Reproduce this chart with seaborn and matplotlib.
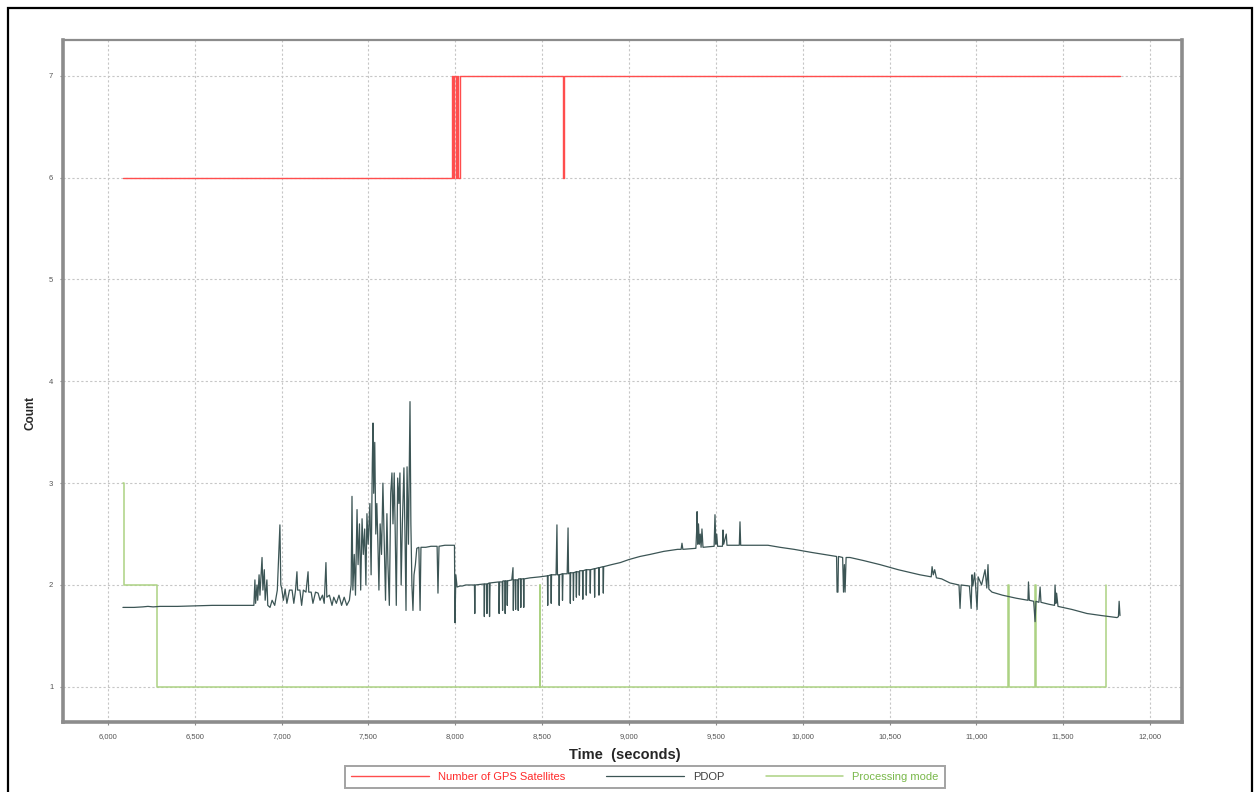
import matplotlib
matplotlib.use("Agg")
import matplotlib.pyplot as plt
from matplotlib.ticker import FuncFormatter
from matplotlib.patches import Rectangle
import pandas as pd
import seaborn as sns

# Number of GPS satellites tracked (step series)
sat_time = [6086, 7981, 7989, 7995, 8003, 8010, 8018, 8027,
            8618, 8628, 11827]
sat_count = [6, 7, 6, 7, 6, 7, 6, 7,
             6, 7, 7]

# PDOP over time
pdop_time = [
    6086, 6150, 6200, 6230, 6260, 6300, 6400, 6500, 6600, 6700, 6800, 6840,
    6846, 6850, 6858, 6862, 6870, 6875, 6887, 6892, 6900, 6905, 6915, 6920,
    6933, 6945, 6960, 6975, 6990, 6995, 7000, 7010, 7020, 7030, 7045, 7060,
    7070, 7080, 7088, 7092, 7105, 7115, 7125, 7140, 7152, 7156, 7170, 7180,
    7195, 7210, 7221, 7235, 7245, 7255, 7260, 7275, 7290, 7300, 7315, 7330,
    7345, 7360, 7375, 7390,
    7400, 7405, 7410, 7418, 7425, 7434, 7440, 7448, 7455, 7463, 7470, 7478,
    7485, 7491, 7498, 7508, 7515, 7522, 7526, 7530, 7536, 7542, 7548, 7555,
    7560, 7567, 7575, 7583, 7590, 7598, 7606, 7612, 7620, 7628, 7635, 7641,
    7648, 7654, 7660, 7668, 7675, 7681, 7688, 7695, 7704, 7710, 7716, 7722,
    7730, 7739, 7744, 7750, 7756,
    7762, 7770, 7778, 7790, 7797, 7802, 7830, 7860, 7895, 7900, 7906, 7940,
    7980, 7995, 7998, 8003, 8010, 8027,
    8040, 8060, 8080, 8110, 8112, 8114, 8165, 8167, 8169, 8180, 8182, 8184,
    8195, 8197, 8200, 8250, 8252, 8255, 8270, 8272, 8274, 8285, 8287, 8289,
    8297, 8299, 8301, 8325, 8332, 8334, 8336, 8345, 8347, 8349, 8360, 8362,
    8364, 8375, 8377, 8379, 8392, 8394, 8396, 8430, 8487, 8530, 8532, 8534,
    8550, 8552, 8554, 8580, 8585, 8588, 8596, 8598, 8600, 8615, 8617, 8620,
    8644, 8649, 8652, 8660, 8662, 8664, 8678, 8680, 8682, 8695, 8697, 8699,
    8712, 8714, 8716, 8732, 8734, 8736, 8752, 8754, 8756, 8775, 8777, 8779,
    8800, 8802, 8804, 8825, 8827, 8829, 8850, 8852, 8854, 8900, 8950, 9000,
    9063, 9121, 9200, 9280,
    9300, 9305, 9310, 9385, 9390, 9392, 9396, 9400, 9405, 9410, 9415, 9420,
    9426, 9490, 9495, 9500, 9505, 9510, 9538, 9541, 9545, 9560, 9564, 9635,
    9639, 9643, 9700, 9800, 9869, 9950, 10050, 10157, 10195,
    10198, 10203, 10206, 10230, 10235, 10240, 10244, 10250, 10272, 10350,
    10445, 10550, 10675, 10740, 10745, 10752, 10760, 10770, 10800, 10848,
    10900, 10906, 10912, 10960, 10970, 10975, 10980, 10990, 10996, 11004,
    11010, 11030, 11050, 11060, 11067, 11072, 11090, 11150, 11230, 11297,
    11300, 11305, 11330, 11338, 11343, 11360, 11367, 11372, 11420, 11450,
    11453, 11458, 11462, 11470, 11550, 11637, 11720, 11810, 11818, 11822,
    11827,
]
pdop_value = [
    1.78, 1.78, 1.785, 1.79, 1.785, 1.79, 1.79, 1.795, 1.80, 1.80, 1.80, 1.80,
    2.05, 1.82, 2.00, 1.85, 2.10, 1.90, 2.27, 1.95, 2.15, 1.85, 2.05, 1.80,
    1.78, 1.85, 1.80, 1.95, 2.59, 2.00, 1.97, 1.85, 1.96, 1.82, 1.95, 1.95,
    1.82, 1.95, 2.13, 1.95, 1.95, 1.80, 1.95, 1.93, 2.13, 1.93, 1.93, 1.82,
    1.93, 1.92, 1.85, 1.90, 1.82, 2.22, 1.88, 1.90, 1.80, 1.88, 1.82, 1.90,
    1.80, 1.88, 1.80, 1.85,
    2.00, 2.87, 1.95, 2.30, 1.90, 2.74, 2.20, 2.60, 1.95, 2.65, 2.30, 2.55,
    2.00, 2.70, 2.40, 2.80, 2.10, 3.20, 3.59, 2.90, 3.40, 2.50, 2.80, 2.35,
    1.95, 2.60, 2.30, 3.00, 2.45, 1.85, 2.70, 2.20, 1.80, 2.90, 3.10, 2.60,
    3.10, 2.50, 1.80, 3.05, 2.80, 3.10, 2.00, 2.60, 3.15, 2.50, 1.75, 3.16,
    2.40, 3.80, 2.60, 2.00, 1.75,
    2.10, 2.20, 2.36, 2.37, 1.75, 2.37, 2.37, 2.38, 2.38, 1.92, 2.38, 2.39,
    2.39, 2.39, 1.63, 2.10, 1.98, 1.99,
    1.99, 2.00, 2.00, 2.00, 1.72, 2.00, 2.01, 1.69, 2.01, 2.01, 1.72, 2.01,
    2.02, 1.69, 2.02, 2.03, 1.72, 2.03, 2.03, 1.75, 2.04, 2.04, 1.72, 2.04,
    2.04, 1.80, 2.04, 2.05, 2.17, 1.75, 2.05, 2.05, 1.76, 2.05, 2.05, 1.75,
    2.06, 2.06, 1.78, 2.06, 2.06, 1.78, 2.06, 2.07, 2.08, 2.09, 1.80, 2.09,
    2.10, 1.82, 2.10, 2.10, 2.59, 2.10, 2.10, 1.80, 2.10, 2.11, 1.85, 2.11,
    2.11, 2.56, 2.11, 2.12, 1.82, 2.12, 2.12, 1.85, 2.12, 2.13, 1.88, 2.13,
    2.13, 1.90, 2.14, 2.14, 1.86, 2.14, 2.15, 1.90, 2.15, 2.15, 1.92, 2.15,
    2.16, 1.88, 2.16, 2.17, 1.90, 2.17, 2.18, 1.92, 2.18, 2.20, 2.22, 2.25,
    2.28, 2.30, 2.33, 2.35,
    2.35, 2.41, 2.35, 2.36, 2.55, 2.72, 2.40, 2.60, 2.40, 2.50, 2.37, 2.55,
    2.37, 2.38, 2.69, 2.40, 2.50, 2.38, 2.38, 2.54, 2.40, 2.50, 2.39, 2.39,
    2.62, 2.39, 2.39, 2.39, 2.37, 2.35, 2.32, 2.29, 2.28,
    1.93, 1.93, 2.28, 2.27, 1.93, 2.20, 1.93, 2.27, 2.27, 2.24,
    2.20, 2.15, 2.10, 2.08, 2.18, 2.10, 2.15, 2.07, 2.06, 2.02,
    2.00, 1.77, 2.00, 1.99, 1.77, 2.10, 1.99, 2.12, 1.98, 1.76,
    2.08, 2.00, 2.15, 1.97, 2.20, 1.96, 1.93, 1.90, 1.87, 1.85,
    2.03, 1.85, 1.84, 1.64, 1.84, 1.83, 1.98, 1.83, 1.81, 1.80,
    2.00, 1.82, 1.92, 1.79, 1.76, 1.72, 1.70, 1.68, 1.69, 1.84,
    1.70,
]

# Processing mode (step series)
mode_time = [6086, 6090, 6282, 8485, 8490, 11180, 11186, 11336, 11342,
             11745, 11747]
mode_value = [3, 2, 1, 2, 1, 2, 1, 2, 1, 1, 2]

x_ticks = [6000, 6500, 7000, 7500, 8000, 8500, 9000, 9500, 10000,
           10500, 11000, 11500, 12000]
y_ticks = [1, 2, 3, 4, 5, 6, 7]

sat_label = "Number of GPS Satellites"
pdop_label = "PDOP"
mode_label = "Processing mode"

RED = "#ff4d4d"
SLATE = "#3c5555"
GREEN = "#acd283"

sns.set_style("white")
plt.rcParams["font.family"] = ["Liberation Sans", "DejaVu Sans"]

W, H = 1259, 792
fig = plt.figure(figsize=(W / 100, H / 100), dpi=100)
ax = fig.add_axes([63 / W, 1 - 722 / H, 1119 / W, 682 / H])

sat_df = pd.DataFrame({"time": sat_time, "value": sat_count})
pdop_df = pd.DataFrame({"time": pdop_time, "value": pdop_value})
mode_df = pd.DataFrame({"time": mode_time, "value": mode_value})

sns.lineplot(data=mode_df, x="time", y="value", ax=ax, color=GREEN,
             linewidth=1.1, estimator=None, sort=False,
             drawstyle="steps-post", label=mode_label, zorder=3)
sns.lineplot(data=pdop_df, x="time", y="value", ax=ax, color=SLATE,
             linewidth=0.9, estimator=None, sort=False,
             label=pdop_label, zorder=4)
sns.lineplot(data=sat_df, x="time", y="value", ax=ax, color=RED,
             linewidth=1.0, estimator=None, sort=False,
             drawstyle="steps-post", label=sat_label, zorder=5)

ax.set_xlim(5741, 12184)
ax.set_ylim(0.655, 7.35)
ax.set_xticks(x_ticks)
ax.set_yticks(y_ticks)
ax.xaxis.set_major_formatter(FuncFormatter(lambda v, p: f"{int(v):,}"))
ax.yaxis.set_major_formatter(FuncFormatter(lambda v, p: f"{int(v)}"))

ax.grid(True, color="#c6c6c6", linestyle=(0, (2, 2)), linewidth=0.8)
ax.set_axisbelow(True)

ax.tick_params(axis="both", which="major", labelsize=5.5, length=2,
               color="#888888", labelcolor="#555555",
               bottom=True, left=True)
ax.tick_params(axis="x", pad=6)
ax.tick_params(axis="y", pad=5)

for side, lw in (("left", 2.6), ("bottom", 2.6), ("top", 1.6), ("right", 2.6)):
    ax.spines[side].set_color("#8c8c8c")
    ax.spines[side].set_linewidth(lw)

ax.set_xlabel("Time  (seconds)", fontsize=10.5, fontweight="bold")
ax.set_ylabel("Count", fontsize=8.5, fontweight="bold")
ax.xaxis.set_label_coords((625 - 63) / 1119, (722 - 748) / 682)
ax.yaxis.set_label_coords((37 - 63) / 1119, (722 - 413) / 682)

# Legend below the plot, series order: satellites, PDOP, mode
handles, labels = ax.get_legend_handles_labels()
ax.get_legend().remove()
order = [labels.index(sat_label), labels.index(pdop_label),
         labels.index(mode_label)]
leg = fig.legend([handles[i] for i in order], [labels[i] for i in order],
                 loc="center", bbox_to_anchor=(645 / W, 1 - 777 / H),
                 ncol=3, fontsize=8, handlelength=7, handletextpad=0.8,
                 columnspacing=3.7, borderpad=0.55, borderaxespad=0,
                 frameon=True, fancybox=False, edgecolor="#8c8c8c")
leg.get_frame().set_linewidth(1.4)
for txt, col in zip(leg.get_texts(), ["#ff2a2a", "#404040", "#79b84a"]):
    txt.set_color(col)

# Outer frame around the whole chart
fig.patches.append(Rectangle((8 / W, -0.05), 1244 / W, 1 - 8 / H + 0.05,
                             transform=fig.transFigure, fill=False,
                             edgecolor="black", linewidth=1.6))

fig.savefig("out.png", dpi=100)
